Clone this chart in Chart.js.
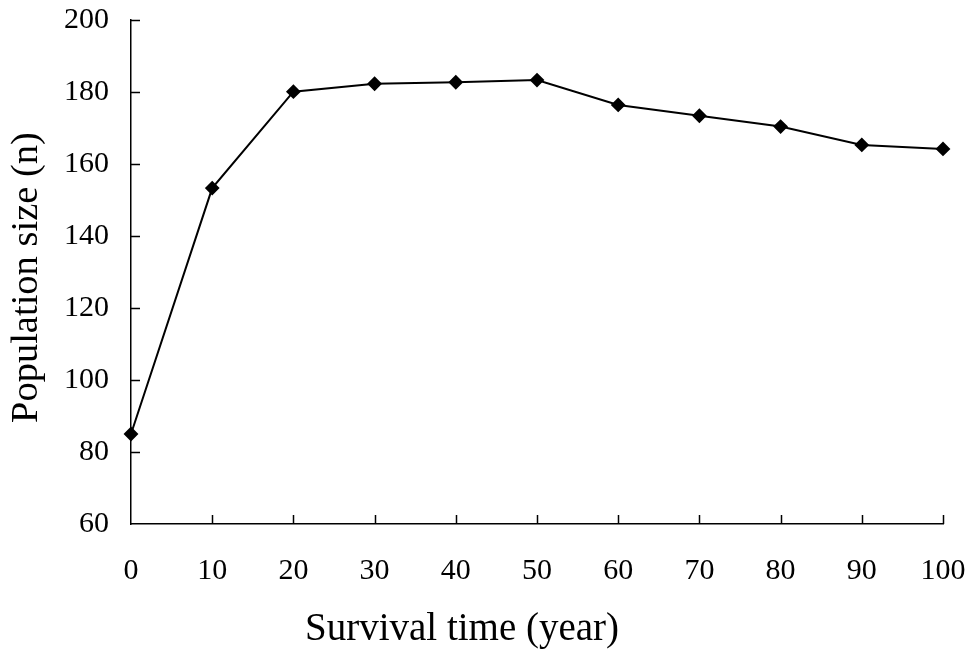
<!DOCTYPE html>
<html>
<head>
<meta charset="utf-8">
<script src="https://cdn.jsdelivr.net/npm/chart.js@4/dist/chart.umd.min.js"></script>
<style>
html,body{margin:0;padding:0;background:#fff;}
#wrap{width:972px;height:656px;position:relative;}
</style>
</head>
<body>
<div id="wrap"><canvas id="c" width="972" height="656"></canvas></div>
<script>
const years = [0, 10, 20, 30, 40, 50, 60, 70, 80, 90, 100];
const population = [85, 153.3, 180.1, 182.3, 182.7, 183.3, 176.4, 173.4, 170.4, 165.3, 164.2];
const xTicks = [0, 10, 20, 30, 40, 50, 60, 70, 80, 90, 100];
const yTicks = [60, 80, 100, 120, 140, 160, 180, 200];
const xTitle = 'Survival time (year)';
const yTitle = 'Population size (n)';

const FONT = '"Liberation Serif", "Times New Roman", serif';

const innerTicks = {
  id: 'innerTicks',
  afterDraw(chart) {
    const ctx = chart.ctx;
    const xs = chart.scales.x, ys = chart.scales.y;
    const ca = chart.chartArea;
    ctx.save();
    ctx.strokeStyle = '#000';
    ctx.lineWidth = 1.5;
    ctx.beginPath();
    xTicks.forEach(v => {
      if (v === xs.min) return;
      const px = Math.round(xs.getPixelForValue(v)) + 0.5;
      ctx.moveTo(px, ca.bottom);
      ctx.lineTo(px, ca.bottom - 9);
    });
    yTicks.forEach(v => {
      if (v === ys.min) return;
      const py = Math.round(ys.getPixelForValue(v)) + 0.5;
      ctx.moveTo(ca.left, py);
      ctx.lineTo(ca.left + 9, py);
    });
    ctx.stroke();

    // axis titles
    ctx.fillStyle = '#000';
    ctx.textBaseline = 'alphabetic';
    ctx.font = '39px ' + FONT;
    ctx.textAlign = 'center';
    ctx.fillText(xTitle, 462, 640);
    ctx.save();
    ctx.translate(37, 423);
    ctx.rotate(-Math.PI / 2);
    ctx.font = '38.5px ' + FONT;
    ctx.textAlign = 'left';
    ctx.fillText(yTitle, 0, 0);
    ctx.restore();
    ctx.restore();
  }
};

new Chart(document.getElementById('c'), {
  type: 'line',
  data: {
    datasets: [{
      data: years.map((x, i) => ({x: x, y: population[i]})),
      borderColor: '#000',
      backgroundColor: '#000',
      borderWidth: 2,
      pointStyle: 'rectRot',
      pointRadius: 6,
      pointHoverRadius: 6,
      tension: 0,
      fill: false,
      clip: false
    }]
  },
  options: {
    responsive: false,
    animation: false,
    events: [],
    layout: {padding: 0},
    plugins: {legend: {display: false}, tooltip: {enabled: false}},
    scales: {
      x: {
        type: 'linear',
        min: 0, max: 100,
        afterBuildTicks(s) { s.ticks = xTicks.map(v => ({value: v})); },
        afterFit(s) { s.height = 132; s.paddingLeft = 0; s.paddingRight = 29; },
        grid: {display: true, drawOnChartArea: false, drawTicks: false},
        border: {display: true, color: '#000', width: 1.5},
        ticks: {color: '#000', padding: 29, maxRotation: 0, autoSkip: false,
                font: {family: FONT, size: 30}},
        title: {display: false}
      },
      y: {
        type: 'linear',
        min: 60, max: 200,
        afterBuildTicks(s) { s.ticks = yTicks.map(v => ({value: v})); },
        afterFit(s) { s.width = 131; s.paddingTop = 20; s.paddingBottom = 0; },
        grid: {display: true, drawOnChartArea: false, drawTicks: false},
        border: {display: true, color: '#000', width: 1.5},
        ticks: {color: '#000', padding: 22, autoSkip: false,
                font: {family: FONT, size: 30}},
        title: {display: false}
      }
    }
  },
  plugins: [innerTicks]
});
</script>
</body>
</html>
